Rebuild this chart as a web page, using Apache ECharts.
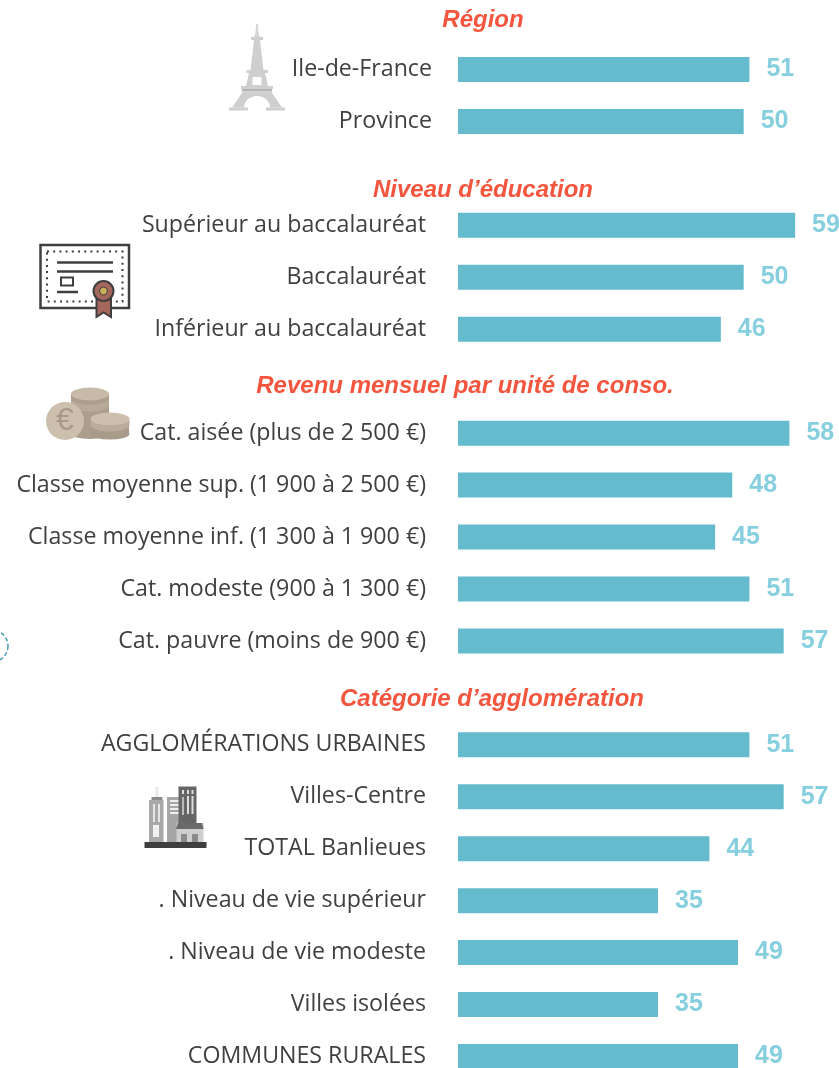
<!DOCTYPE html>
<html><head><meta charset="utf-8">
<style>html,body{margin:0;padding:0;background:#fff}#c{width:839px;height:1068px}</style>
<script src="https://cdn.jsdelivr.net/npm/echarts@6/dist/echarts.min.js"></script>
</head><body><div id="c"></div>
<script>
const categories = ["Ile-de-France","Province","",
 "Supérieur au baccalauréat","Baccalauréat","Inférieur au baccalauréat","",
 "Cat. aisée (plus de 2 500 €)","Classe moyenne sup. (1 900 à 2 500 €)","Classe moyenne inf. (1 300 à 1 900 €)","Cat. modeste (900 à 1 300 €)","Cat. pauvre (moins de 900 €)","",
 "AGGLOMÉRATIONS URBAINES","Villes-Centre","TOTAL Banlieues",". Niveau de vie supérieur",". Niveau de vie modeste","Villes isolées","COMMUNES RURALES"];
const values = [51,50,null,59,50,46,null,58,48,45,51,57,null,51,57,44,35,49,35,49];
const headings = ["Région","Niveau d’éducation","Revenu mensuel par unité de conso.","Catégorie d’agglomération"];
const headingX = [483,483,465,492];
const headingY = [20,190.5,386.5,699.5];

const dark='#3f3f3f', g1='#cfcfcf', g2='#b4b4b4';
const rect=(x,y,w,h,fill)=>({type:'rect',shape:{x,y,width:w,height:h},style:{fill}});
const poly=(points,fill)=>({type:'polygon',shape:{points},style:{fill}});
const line=(x1,y1,x2,y2,w)=>({type:'line',shape:{x1,y1,x2,y2},style:{stroke:dark,lineWidth:w}});
const circ=(cx,cy,r,fill,stroke,lw)=>({type:'circle',shape:{cx,cy,r},style:{fill,stroke:stroke||null,lineWidth:lw||0}});
const ell=(cx,cy,rx,ry,fill)=>({type:'circle',shape:{cx:0,cy:0,r:1},x:cx,y:cy,scaleX:rx,scaleY:ry,style:{fill}});
const arcPts=(cx,cy,rx,ry,a0,a1)=>{const p=[];for(let i=0;i<=16;i++){const a=(a0+(a1-a0)*i/16)*Math.PI/180;p.push([cx+rx*Math.cos(a),cy+ry*Math.sin(a)]);}return p;};
const band=(cx,y0,y1,rx,ry,fill)=>poly([...arcPts(cx,y1,rx,ry,180,0),...arcPts(cx,y0,rx,ry,0,180)],fill);

const eiffel=[
 poly([[256,24],[258,24],[258.5,33],[260,37],[254,37],[255.5,33]],'#d6d6d6'),
 rect(251,37,12,3,g1),
 poly([[254,40],[260,40],[263.5,70],[250.5,70]],g1),
 rect(246.5,70,21.5,3,g1),
 poly([[249,73],[265,73],[268,86],[246,86]],g1),
 rect(252.5,77,9,8,'#fff'),
 rect(241,86,32,3,g1),
 rect(242,89,30,2.5,g2),
 poly([[243,91.5],[271,91.5],[282,107.5],[270,107.5],...arcPts(257,107.5,13,11.5,0,-180),[232,107.5]],g1),
 rect(229,107.5,19,3,g1), rect(266,107.5,19,3,g1)
];
const diploma=[
 {type:'rect',shape:{x:40.5,y:245,width:88.5,height:63},style:{fill:'#fff',stroke:dark,lineWidth:2.5}},
 {type:'rect',shape:{x:47,y:251.5,width:75.5,height:50},style:{fill:'none',stroke:dark,lineWidth:2,lineDash:[2,4.2]}},
 line(57,262.5,113,262.5,2.5), line(57,271.5,113,271.5,2.5),
 {type:'rect',shape:{x:61,y:277.5,width:12,height:8},style:{fill:'#fff',stroke:dark,lineWidth:2}},
 line(57,292,78,292,2.5),
 circ(103.5,291,13,'#fff'),
 {type:'polygon',shape:{points:[[96.5,297],[111,297],[111,317],[103.5,312.5],[96.5,317]]},style:{fill:'#a5665c',stroke:dark,lineWidth:2}},
 circ(103.5,291,10,'#a5665c',dark,2),
 circ(103.5,291,4,'#c9b05a',dark,1)
];
const coins=[
 rect(71,394,38,40,'#ab9e8d'), ell(90,434,19,5,'#ab9e8d'),
 band(90,398,405,19,6.5,'#b8aa98'),
 ell(90,394,19,6.5,'#c8baa8'),
 circ(65,421,19,'#cdbfae'),
 {type:'text',style:{x:65,y:421,text:'€',fill:'#a79a88',font:'32px "Liberation Sans"',align:'center',verticalAlign:'middle'}},
 rect(90.5,419,38.5,15,'#a89b8a'), ell(110,434,19.5,5.5,'#a89b8a'),
 band(110,419,425,19.5,6.5,'#baac9b'),
 ell(110,419,19.5,6.5,'#cdbfae')
];
const town=[
 rect(155.5,787,3,13,'#e8e8e8'),
 rect(151.5,797,11,3,'#8a8a8a'),
 rect(149,800,14.5,42,'#a9a9a9'),
 rect(153,804,2,18,'#e6e6e6'), rect(158,804,2,18,'#e6e6e6'),
 rect(153,825,6,12,'#f0f0f0'),
 rect(167,797,17,45,'#a6a6a6'),
 rect(170,800,10.5,2,'#eee'), rect(170,804,10.5,2,'#eee'), rect(170,808,10.5,2,'#eee'), rect(170,812,10.5,2,'#eee'),
 rect(178.5,786.5,18,38,'#666'),
 rect(182,790,2,4,'#ddd'),rect(187,790,2,4,'#ddd'),rect(191.5,790,2,4,'#ddd'),
 rect(187,796,2,18,'#ddd'),rect(191.5,796,2,18,'#ddd'),rect(182,797,2,18,'#bbb'),
 rect(176.5,823,27,19,'#cfcfcf'),
 poly([[178,823],[202,823],[203.5,829],[176,829]],'#6a6a6a'),
 rect(181,834,6,8,'#8c8c8c'), rect(192,834,6,8,'#8c8c8c'),
 rect(144.5,842,62,6,dark)
];
const dashedArc={type:'circle',shape:{cx:-8,cy:646,r:16},style:{fill:'none',stroke:'#2f8ea9',lineWidth:1.3,lineDash:[4,2.5]}};

const labelFont={fontFamily:'Open Sans',fontSize:23.2,color:'#404040'};
const chart=echarts.init(document.getElementById('c'),null,{renderer:'canvas'});
chart.setOption({
 animation:false,
 backgroundColor:'#fff',
 grid:{left:458,top:69.5,width:381,height:988},
 xAxis:{type:'value',min:0,max:66.68,show:false},
 yAxis:{type:'category',inverse:true,boundaryGap:false,data:categories,
  axisLine:{show:false},axisTick:{show:false},
  axisLabel:{interval:0,margin:26,...labelFont,align:'right',
   formatter:(v,i)=>v?(i<2?`{a|${v}}`:`{b|${v}}`):'',
   rich:{a:{...labelFont},b:{...labelFont,padding:[0,6,0,0]}}}},
 series:[{type:'bar',data:values,barWidth:25,clip:false,
  itemStyle:{color:'#65bbce'},
  label:{show:true,position:'right',distance:17,fontFamily:'Liberation Sans',fontWeight:'bold',fontSize:25,color:'#86cfde'}}],
 graphic:[
  ...headings.map((h,i)=>({type:'text',x:headingX[i],y:headingY[i],style:{text:h,align:'center',verticalAlign:'middle',fill:'#f4553e',font:'italic bold 24px "Liberation Sans"'}})),
  {type:'group',children:eiffel},{type:'group',children:diploma},{type:'group',children:coins},{type:'group',children:town},dashedArc
 ]
});
</script></body></html>
